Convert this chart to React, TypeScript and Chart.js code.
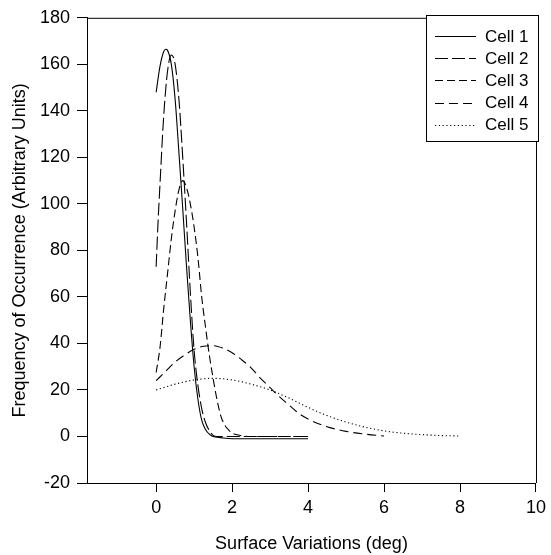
import React, { useEffect, useRef } from "react";
import { Chart, registerables } from "chart.js";

Chart.register(...registerables);

const seriesNames = ["Cell 1", "Cell 2", "Cell 3", "Cell 4", "Cell 5"];

const cell1X = [0, 0.1, 0.2, 0.25, 0.3, 0.4, 0.5, 0.6, 0.7, 0.8, 0.9, 1.0, 1.1, 1.2, 1.3, 1.4, 1.5, 1.7, 2.0, 2.5, 3.0, 3.5, 4.0];
const cell1Y = [148, 159, 165.5, 166.5, 166, 160, 145, 122, 98, 73, 50, 30, 16, 7, 3, 1, 0, -0.5, -1, -1, -1, -1, -1];

const cell2X = [0, 0.05, 0.1, 0.2, 0.3, 0.4, 0.5, 0.6, 0.7, 0.8, 0.9, 1.0, 1.1, 1.2, 1.3, 1.4, 1.5, 1.6, 1.8, 2.0, 3.0, 4.0];
const cell2Y = [73, 92, 108, 138, 157, 164, 160, 145, 120, 92, 62, 37, 22, 12, 6, 2.5, 0.5, 0, 0, 0, 0, 0];

const cell3X = [0, 0.1, 0.2, 0.3, 0.4, 0.5, 0.6, 0.7, 0.8, 0.9, 1.0, 1.1, 1.2, 1.3, 1.4, 1.5, 1.6, 1.7, 1.8, 1.9, 2.0, 2.2, 2.5, 3.0, 4.0];
const cell3Y = [27.5, 38, 55, 70, 85, 97, 106, 110, 107, 100, 90, 77, 60, 47, 35, 25, 16, 9, 5, 3, 1.5, 0.5, 0, 0, 0];

const cell4X = [0, 0.25, 0.5, 0.75, 1.0, 1.25, 1.5, 1.75, 2.0, 2.25, 2.5, 2.75, 3.0, 3.25, 3.5, 3.75, 4.0, 4.5, 5.0, 5.5, 6.0];
const cell4Y = [24, 28, 32, 35, 37.5, 38.8, 39, 38, 36, 33, 29.5, 25, 21, 17, 13.5, 10, 7.5, 4.2, 2.2, 1, 0.2];

const cell5X = [0, 0.5, 1.0, 1.5, 2.0, 2.5, 3.0, 3.5, 4.0, 4.5, 5.0, 5.5, 6.0, 6.5, 7.0, 7.5, 8.0];
const cell5Y = [20, 22.5, 24.3, 25, 24.3, 22.5, 20, 16.5, 12.5, 9, 6.2, 4, 2.4, 1.4, 0.8, 0.4, 0.2];

const xTickValues = [0, 2, 4, 6, 8, 10];
const xMin = -1.82;
const xMax = 10;
const yMin = -20;
const yMax = 180;
const yStep = 20;

const xTitle = "Surface Variations (deg)";
const yTitle = "Frequency of Occurrence (Arbitrary Units)";

const dashes: number[][] = [[], [13, 4], [8, 4], [9, 5], [1.2, 2.6]];

const FONT = "'Liberation Sans', Arial, sans-serif";

function pts(xs: number[], ys: number[]) {
  return xs.map((x, i) => ({ x, y: ys[i] }));
}

export default function App() {
  const ref = useRef<HTMLCanvasElement | null>(null);

  useEffect(() => {
    if (!ref.current) return;
    const allX = [cell1X, cell2X, cell3X, cell4X, cell5X];
    const allY = [cell1Y, cell2Y, cell3Y, cell4Y, cell5Y];

    const framePlugin = {
      id: "frameLegend",
      afterDraw(chart: any) {
        const ctx = chart.ctx;
        const a = chart.chartArea;
        ctx.save();
        ctx.strokeStyle = "#000";
        ctx.lineWidth = 1;
        ctx.setLineDash([]);
        ctx.beginPath();
        ctx.moveTo(a.left, a.top + 0.5);
        ctx.lineTo(a.right + 0.5, a.top + 0.5);
        ctx.lineTo(a.right + 0.5, a.bottom);
        ctx.stroke();

        // legend box
        const bx = 426.5, by = 15.5, bw = 112, bh = 126;
        ctx.fillStyle = "#fff";
        ctx.fillRect(bx, by, bw, bh);
        ctx.strokeRect(bx, by, bw, bh);
        ctx.font = `17px ${FONT}`;
        ctx.textBaseline = "middle";
        ctx.textAlign = "left";
        ctx.fillStyle = "#000";
        seriesNames.forEach((name, i) => {
          const y = 36 + i * 22.2;
          ctx.setLineDash(dashes[i]);
          ctx.lineWidth = 1;
          ctx.beginPath();
          ctx.moveTo(435, Math.round(y) + 0.5);
          ctx.lineTo(476, Math.round(y) + 0.5);
          ctx.stroke();
          ctx.setLineDash([]);
          ctx.fillText(name, 485, y + 1);
        });
        ctx.restore();
      },
    };

    const chart = new Chart(ref.current, {
      type: "scatter",
      data: {
        datasets: seriesNames.map((name, i) => ({
          label: name,
          data: pts(allX[i], allY[i]),
          showLine: true,
          borderColor: "#000",
          borderWidth: 1.1,
          borderDash: dashes[i],
          pointRadius: 0,
          fill: false,
          cubicInterpolationMode: "monotone" as const,
        })),
      },
      options: {
        animation: false,
        responsive: false,
        events: [],
        layout: { padding: { left: 0, right: 9, top: 17, bottom: 0 } },
        plugins: { legend: { display: false }, tooltip: { enabled: false } },
        scales: {
          x: {
            type: "linear",
            min: xMin,
            max: xMax,
            afterBuildTicks: (scale: any) => {
              scale.ticks = xTickValues.map((v) => ({ value: v }));
            },
            afterFit: (scale: any) => {
              scale.height = 72;
            },
            grid: { drawOnChartArea: false, drawTicks: true, tickLength: 9, color: "#000" },
            border: { color: "#000", width: 1 },
            ticks: {
              color: "#000",
              font: { family: FONT, size: 18 },
              padding: 5,
              maxRotation: 0,
              autoSkip: false,
            },
            title: {
              display: true,
              text: xTitle,
              color: "#000",
              font: { family: FONT, size: 18 },
              padding: { top: 4, bottom: 0 },
            },
          },
          y: {
            type: "linear",
            min: yMin,
            max: yMax,
            afterFit: (scale: any) => {
              scale.width = 87;
            },
            grid: { drawOnChartArea: false, drawTicks: true, tickLength: 10, color: "#000" },
            border: { color: "#000", width: 1 },
            ticks: {
              stepSize: yStep,
              color: "#000",
              font: { family: FONT, size: 18 },
              padding: 7,
              autoSkip: false,
            },
            title: {
              display: true,
              text: yTitle,
              color: "#000",
              font: { family: FONT, size: 18 },
              padding: { top: 9, bottom: 4 },
            },
          },
        },
      },
      plugins: [framePlugin],
    });
    return () => chart.destroy();
  }, []);

  return (
    <div style={{ position: "absolute", left: 0, top: 0, width: 551, height: 555, background: "#fff" }}>
      <canvas ref={ref} width={551} height={555} style={{ display: "block" }} />
    </div>
  );
}
